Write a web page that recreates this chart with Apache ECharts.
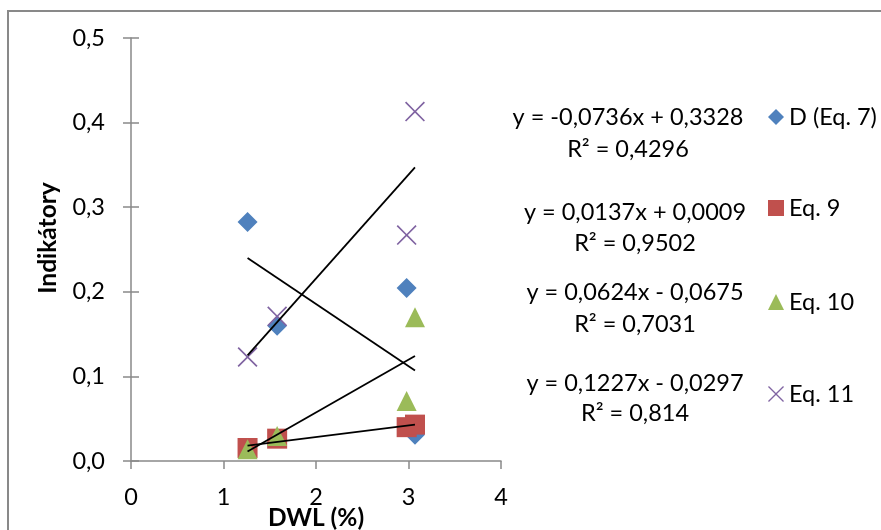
<!DOCTYPE html>
<html>
<head>
<meta charset="utf-8">
<script src="https://cdn.jsdelivr.net/npm/echarts@6/dist/echarts.min.js"></script>
<style>
  html, body { margin: 0; padding: 0; background: #fff; }
  #chart { width: 881px; height: 530px; }
</style>
</head>
<body>
<div id="chart"></div>
<script>
// DWL (%) values shared by all four indicator series
const dwl = [1.26, 1.58, 2.98, 3.07];

// Indicator values per series
const seriesNames = ['D (Eq. 7)', 'Eq. 9', 'Eq. 10', 'Eq. 11'];
const valuesD = [0.2825, 0.160, 0.2044, 0.031];
const valuesEq9 = [0.0154, 0.0264, 0.040, 0.043];
const valuesEq10 = [0.014, 0.0296, 0.071, 0.170];
const valuesEq11 = [0.123, 0.171, 0.267, 0.413];

// Linear trendlines: y = slope * x + intercept
const slopes = [-0.0736, 0.0137, 0.0624, 0.1227];
const intercepts = [0.3328, 0.0009, -0.0675, -0.0297];
const rSquared = [0.4296, 0.9502, 0.7031, 0.814];

// Axis ticks
const xTicks = [0, 1, 2, 3, 4];
const yTicks = [0.0, 0.1, 0.2, 0.3, 0.4, 0.5];

const colors = ['#4F81BD', '#C0504D', '#9BBB59', '#8064A2'];
const symbols = [
  'diamond',
  'rect',
  'triangle',
  'path://M0,1.2L1.2,0L10,8.8L18.8,0L20,1.2L11.2,10L20,18.8L18.8,20L10,11.2L1.2,20L0,18.8L8.8,10Z'
];
const allValues = [valuesD, valuesEq9, valuesEq10, valuesEq11];

const FONT = 'Lato';
const FS = 23.5;
const FS_BOLD = 24.5;
const AXIS_GREY = '#898989';

function dec(v) { return String(v).replace('.', ','); }
function equation(i) {
  const b = intercepts[i];
  return 'y = ' + dec(slopes[i]) + 'x ' + (b < 0 ? '- ' : '+ ') + dec(Math.abs(b));
}

const xMin = Math.min(...dwl), xMax = Math.max(...dwl);

const scatterSeries = allValues.map((vals, i) => ({
  name: seriesNames[i],
  type: 'scatter',
  symbol: symbols[i],
  symbolSize: 20,
  itemStyle: { color: colors[i], opacity: 1 },
  data: dwl.map((x, k) => [x, vals[k]]),
  z: 2
}));

const trendSeries = slopes.map((m, i) => ({
  type: 'line',
  silent: true,
  symbol: 'none',
  lineStyle: { color: '#000', width: 1.8 },
  data: [[xMin, m * xMin + intercepts[i]], [xMax, m * xMax + intercepts[i]]],
  z: 3
}));

// Trendline equation labels, placed to the right of the plot
const eqPos = [
  { x: 628, y1: 117, y2: 149 },
  { x: 635, y1: 212, y2: 243 },
  { x: 635, y1: 292, y2: 324 },
  { x: 635, y1: 383, y2: 413 }
];
const eqGraphics = [];
eqPos.forEach((p, i) => {
  eqGraphics.push({
    type: 'text', x: p.x, y: p.y1,
    style: { text: equation(i), font: FS + 'px ' + FONT, fill: '#000', textAlign: 'center', textVerticalAlign: 'middle' }
  });
  eqGraphics.push({
    type: 'text', x: p.x, y: p.y2,
    style: { text: 'R² = ' + dec(rSquared[i]), font: FS + 'px ' + FONT, fill: '#000', textAlign: 'center', textVerticalAlign: 'middle' }
  });
});

const legendTops = [100, 191, 285, 377];
const legends = seriesNames.map((n, i) => ({
  data: [{ name: n, icon: symbols[i] }],
  left: 763,
  top: legendTops[i],
  orient: 'vertical',
  itemWidth: 16,
  itemHeight: 16,
  selectedMode: false,
  textStyle: { fontFamily: FONT, fontSize: FS, color: '#000', lineHeight: 24 }
}));

const baseX = {
  type: 'value', min: xTicks[0], max: xTicks[xTicks.length - 1], interval: 1,
  splitLine: { show: false }
};
const baseY = {
  type: 'value', min: yTicks[0], max: yTicks[yTicks.length - 1], interval: 0.1,
  splitLine: { show: false }
};

const option = {
  animation: false,
  backgroundColor: '#fff',
  grid: { left: 131, right: 380, top: 38, bottom: 69 },
  xAxis: [
    Object.assign({}, baseX, {
      axisLine: { show: true, onZero: false, lineStyle: { color: AXIS_GREY, width: 1.5 } },
      axisTick: { show: true, length: 8, lineStyle: { color: AXIS_GREY, width: 1.5 } },
      axisLabel: { margin: 24, fontFamily: FONT, fontSize: FS, color: '#000', lineHeight: 24 }
    }),
    Object.assign({}, baseX, {
      axisLine: { show: false },
      axisTick: { show: true, inside: true, length: 8, lineStyle: { color: AXIS_GREY, width: 1.5 } },
      axisLabel: { show: false }
    })
  ],
  yAxis: [
    Object.assign({}, baseY, {
      axisLine: { show: true, onZero: false, lineStyle: { color: AXIS_GREY, width: 1.5 } },
      axisTick: { show: true, length: 8, lineStyle: { color: AXIS_GREY, width: 1.5 } },
      axisLabel: {
        margin: 26, fontFamily: FONT, fontSize: FS, color: '#000',
        formatter: v => v.toFixed(1).replace('.', ',')
      }
    }),
    Object.assign({}, baseY, {
      position: 'left',
      axisLine: { show: false },
      axisTick: { show: true, inside: true, length: 8, lineStyle: { color: AXIS_GREY, width: 1.5 } },
      axisLabel: { show: false }
    })
  ],
  legend: legends,
  series: scatterSeries.concat(trendSeries),
  graphic: [
    {
      type: 'rect', shape: { x: 8, y: 11, width: 900, height: 600 },
      style: { fill: 'none', stroke: AXIS_GREY, lineWidth: 2 }, silent: true, z: -1
    },
    {
      type: 'text', x: 48, y: 238, rotation: Math.PI / 2,
      style: { text: 'Indikátory', font: 'bold ' + FS_BOLD + 'px ' + FONT, fill: '#000', textAlign: 'center', textVerticalAlign: 'middle' }
    },
    {
      type: 'text', x: 316, y: 518,
      style: { text: 'DWL (%)', font: 'bold ' + FS_BOLD + 'px ' + FONT, fill: '#000', textAlign: 'center', textVerticalAlign: 'middle' }
    }
  ].concat(eqGraphics)
};

const chart = echarts.init(document.getElementById('chart'), null, { renderer: 'canvas' });
chart.setOption(option);
</script>
</body>
</html>
